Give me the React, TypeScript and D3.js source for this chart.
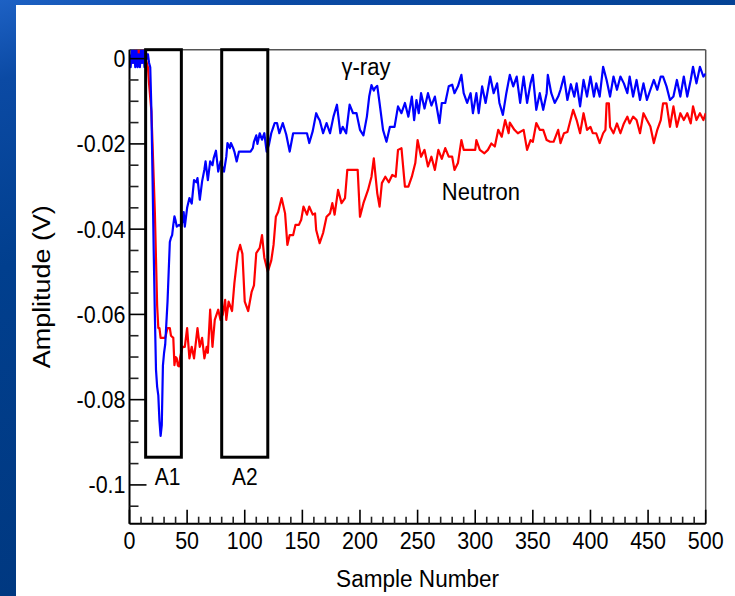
import * as d3 from 'd3'
import { useMemo } from 'react'

// gamma-ray pulse (blue), sample number -> amplitude in volts
const gammaSamples = [
  0, 1, 2, 3, 4, 5, 6, 7, 8, 9, 10, 11, 12, 13, 14, 15, 16, 17, 18, 19, 20, 21, 22, 23, 24, 25, 26, 27, 28, 29,
  30, 31, 32, 33, 34, 35, 36, 37, 38, 39, 40, 41, 43, 45, 46, 47, 48, 50, 52, 54, 56, 58, 59, 61, 63, 65, 66, 68,
  70, 72, 73, 75, 77, 79, 80, 82, 84, 85, 87, 88, 90, 91, 93, 95, 100, 105, 107, 108, 110, 111, 113, 115, 117,
  119, 121, 123, 125, 126, 128, 130, 133, 136, 139, 142, 146, 150, 154, 156, 159, 162, 164, 165, 168, 171, 174,
  177, 180, 183, 185, 188, 191, 194, 197, 200, 203, 206, 208, 210, 212, 213, 215, 217, 220, 223, 226, 230, 233,
  236, 239, 242, 245, 247, 249, 251, 253, 256, 259, 262, 265, 269, 271, 274, 277, 280, 282, 285, 288, 290, 293,
  296, 298, 301, 303, 306, 309, 313, 316, 319, 321, 324, 327, 330, 333, 336, 339, 342, 345, 348, 350, 353, 356,
  359, 362, 363, 366, 369, 372, 374, 377, 380, 383, 386, 388, 391, 394, 397, 400, 403, 405, 408, 411, 414, 417,
  420, 423, 426, 429, 432, 434, 437, 440, 443, 446, 449, 452, 455, 458, 461, 463, 466, 469, 472, 475, 478, 481,
  484, 487, 489, 492, 495, 498, 500,
]
const gammaAmps = [
  0.001, -0.002, 0.002, -0.001, 0.002, -0.002, 0.002, -0.002, 0.001, -0.002, 0.002, -0.001, 0.002, -0.002, 0.002,
  0.0, 0.001, -0.001, -0.002, -0.012, -0.028, -0.045, -0.06, -0.073, -0.077, -0.079, -0.085, -0.0885, -0.086,
  -0.072, -0.069, -0.067, -0.062, -0.057, -0.05, -0.043, -0.042, -0.0414, -0.039, -0.037, -0.038, -0.0394,
  -0.039, -0.0394, -0.038, -0.036, -0.0394, -0.035, -0.0327, -0.034, -0.0285, -0.029, -0.028, -0.0331, -0.0288,
  -0.026, -0.0241, -0.0285, -0.0241, -0.025, -0.0234, -0.0216, -0.0265, -0.0241, -0.025, -0.0265, -0.023,
  -0.0198, -0.021, -0.0198, -0.021, -0.0218, -0.0241, -0.0218, -0.0218, -0.0218, -0.021, -0.0195, -0.018, -0.02,
  -0.0175, -0.019, -0.0175, -0.0218, -0.0202, -0.0175, -0.0159, -0.0151, -0.0151, -0.0175, -0.0151, -0.0178,
  -0.0218, -0.0175, -0.0175, -0.0175, -0.0175, -0.0198, -0.017, -0.0128, -0.014, -0.0144, -0.0175, -0.0151,
  -0.0175, -0.0136, -0.0108, -0.0175, -0.016, -0.0175, -0.0108, -0.0128, -0.0128, -0.0167, -0.018, -0.0136,
  -0.0089, -0.0062, -0.0075, -0.0069, -0.0064, -0.0104, -0.0167, -0.0195, -0.016, -0.016, -0.0112, -0.0128,
  -0.0104, -0.0136, -0.0089, -0.0144, -0.0097, -0.0128, -0.0081, -0.0117, -0.0081, -0.011, -0.0089, -0.0151,
  -0.0104, -0.0104, -0.0065, -0.0061, -0.0081, -0.0065, -0.0038, -0.0081, -0.0104, -0.0081, -0.0128, -0.0081,
  -0.0128, -0.0065, -0.0104, -0.0042, -0.0081, -0.0058, -0.0104, -0.0132, -0.0081, -0.0038, -0.0065, -0.0042,
  -0.0104, -0.0042, -0.0104, -0.0058, -0.0038, -0.012, -0.0081, -0.012, -0.0081, -0.0038, -0.0081, -0.0104,
  -0.0089, -0.0073, -0.0042, -0.0097, -0.006, -0.0089, -0.0058, -0.0112, -0.005, -0.0089, -0.0042, -0.0089,
  -0.0058, -0.0089, -0.0019, -0.005, -0.0089, -0.0042, -0.0073, -0.0042, -0.0058, -0.0081, -0.0042, -0.0089,
  -0.005, -0.0097, -0.0058, -0.0097, -0.0073, -0.005, -0.0073, -0.0042, -0.0042, -0.0065, -0.0097, -0.0089,
  -0.005, -0.0089, -0.0042, -0.0089, -0.005, -0.0019, -0.0058, -0.0019, -0.0042, -0.0035,
]

// neutron pulse (red)
const neutronSamples = [
  0, 1, 2, 3, 4, 5, 6, 7, 8, 9, 10, 11, 12, 13, 14, 15, 16, 17, 19, 20, 21, 22, 23, 24, 25, 26, 27, 29, 31, 33,
  35, 36, 38, 39, 40, 41, 42, 43, 44, 46, 48, 50, 52, 54, 56, 59, 61, 63, 65, 67, 68, 70, 72, 74, 77, 79, 81, 83,
  84, 86, 89, 91, 94, 96, 98, 100, 103, 106, 108, 110, 113, 115, 117, 120, 123, 125, 127, 129, 132, 135, 137,
  139, 142, 144, 147, 149, 151, 154, 156, 159, 161, 162, 165, 168, 171, 174, 176, 178, 181, 184, 187, 189, 194,
  198, 200, 203, 207, 210, 212, 215, 217, 219, 222, 225, 228, 231, 233, 236, 239, 242, 245, 248, 250, 253, 256,
  259, 262, 265, 268, 271, 274, 277, 280, 282, 285, 288, 290, 295, 300, 301, 304, 308, 311, 314, 317, 320, 323,
  326, 329, 330, 334, 337, 342, 345, 348, 350, 353, 356, 359, 362, 365, 368, 372, 374, 377, 380, 385, 388, 391,
  394, 397, 400, 402, 405, 408, 411, 413, 414, 416, 417, 420, 423, 426, 429, 432, 434, 437, 440, 443, 446, 449,
  452, 455, 458, 461, 463, 466, 469, 472, 475, 478, 481, 484, 487, 489, 492, 495, 498, 500,
]
const neutronAmps = [
  -0.002, 0.0, -0.001, 0.001, -0.001, 0.002, -0.001, 0.002, 0.0, 0.002, -0.001, 0.002, 0.001, 0.002, 0.0, -0.001,
  -0.002, -0.006, -0.0124, -0.02, -0.028, -0.0359, -0.047, -0.058, -0.0632, -0.0632, -0.0655, -0.0655, -0.0655,
  -0.0632, -0.0632, -0.065, -0.0655, -0.0719, -0.07, -0.0703, -0.072, -0.0722, -0.07, -0.0676, -0.0676, -0.0632,
  -0.0703, -0.0676, -0.0703, -0.0632, -0.0676, -0.0655, -0.0703, -0.0676, -0.069, -0.0589, -0.0676, -0.0613,
  -0.0589, -0.0613, -0.06, -0.0566, -0.0613, -0.057, -0.0592, -0.0527, -0.0456, -0.0437, -0.0458, -0.057,
  -0.0592, -0.0547, -0.0532, -0.0456, -0.0444, -0.0414, -0.0467, -0.05, -0.0474, -0.0437, -0.0371, -0.036,
  -0.0327, -0.0363, -0.0437, -0.0414, -0.0414, -0.039, -0.039, -0.0378, -0.0347, -0.0366, -0.0347, -0.0366,
  -0.0363, -0.0402, -0.0433, -0.0409, -0.0371, -0.0363, -0.0339, -0.0366, -0.0308, -0.0339, -0.0327, -0.0261,
  -0.0261, -0.0261, -0.0371, -0.0339, -0.0308, -0.0277, -0.0234, -0.0316, -0.0347, -0.0292, -0.0277, -0.029,
  -0.0273, -0.0277, -0.0214, -0.021, -0.03, -0.03, -0.0277, -0.0245, -0.0191, -0.023, -0.0214, -0.0253, -0.023,
  -0.0261, -0.0214, -0.0235, -0.021, -0.023, -0.023, -0.0261, -0.0245, -0.0191, -0.0214, -0.0214, -0.0214,
  -0.0191, -0.0214, -0.0222, -0.0214, -0.0199, -0.0206, -0.0167, -0.0183, -0.0144, -0.0175, -0.015, -0.0167,
  -0.0175, -0.0167, -0.0214, -0.0191, -0.0195, -0.0151, -0.0167, -0.0167, -0.0191, -0.0195, -0.0195, -0.0167,
  -0.0198, -0.0175, -0.0172, -0.012, -0.0144, -0.0175, -0.0128, -0.0167, -0.016, -0.0175, -0.0175, -0.0198,
  -0.0175, -0.0167, -0.0105, -0.0105, -0.016, -0.0175, -0.0152, -0.0175, -0.0152, -0.0136, -0.0152, -0.0136,
  -0.0144, -0.0175, -0.0128, -0.0144, -0.0159, -0.0198, -0.0167, -0.0144, -0.0105, -0.0105, -0.016, -0.0112,
  -0.016, -0.0128, -0.0144, -0.0128, -0.0152, -0.0112, -0.0144, -0.0128, -0.0144, -0.0128,
]

// integration windows
const regionNames = ['A1', 'A2']
const regionStart = [14, 80]
const regionEnd = [45, 120]
const regionFloor = -0.0935
const regionLabelAt = [33, 100]
const regionLabelAmp = -0.1

const seriesLabels = ['γ-ray', 'Neutron']
const seriesLabelSample = [184, 271]
const seriesLabelAmp = [-0.0038, -0.0332]

const xDomain = [0, 500]
const yDomain = [0.0021, -0.1091]

const FONT = "'Liberation Sans', Arial, Helvetica, sans-serif"

const App = () => {
  const plot = { left: 129.5, right: 705.7, top: 49.7, bottom: 523.7 }

  const xScale = useMemo(() => d3.scaleLinear().domain(xDomain).range([plot.left, plot.right]), [])
  const yScale = useMemo(() => d3.scaleLinear().domain(yDomain).range([plot.top, plot.bottom]), [])

  const line = d3
    .line<[number, number]>()
    .x((d) => xScale(d[0]))
    .y((d) => yScale(d[1]))

  const gammaPath = line(d3.zip(gammaSamples, gammaAmps) as [number, number][]) || ''
  const neutronPath = line(d3.zip(neutronSamples, neutronAmps) as [number, number][]) || ''

  const xMajor = xScale.ticks(10)
  const xMinor = xScale.ticks(50).filter((t) => t % 50 !== 0)
  const yMajor = d3.range(0, 6).map((i) => -i / 50)
  const yMinor = d3.range(1, 22).map((i) => -i / 200).filter((t) => Math.round(t * 1000) % 20 !== 0)

  const stretch = 'scale(1,1.12)'

  return (
    <svg width={735} height={596} style={{ position: 'absolute', left: 0, top: 0 }} fontFamily={FONT}>
      <defs>
        <linearGradient id="bg" x1="0" y1="0" x2="0.35" y2="1">
          <stop offset="0" stopColor="#1d61c4" />
          <stop offset="0.12" stopColor="#0b4aa4" />
          <stop offset="0.4" stopColor="#013f8e" />
          <stop offset="1" stopColor="#00377e" />
        </linearGradient>
        <clipPath id="plotClip">
          <rect x={plot.left} y={plot.top} width={plot.right - plot.left} height={plot.bottom - plot.top} />
        </clipPath>
      </defs>
      <rect width={735} height={596} fill="url(#bg)" />
      <rect x={16} y={5} width={719} height={591} fill="#ffffff" />

      {/* frame */}
      <line x1={plot.left} x2={plot.right} y1={plot.top} y2={plot.top} stroke="#555" strokeWidth={1.5} />
      <line x1={plot.right} x2={plot.right} y1={plot.top} y2={plot.bottom} stroke="#555" strokeWidth={1.5} />

      {/* curves */}
      <g clipPath="url(#plotClip)" fill="none" strokeLinejoin="round">
        <path d={neutronPath} stroke="#ff0000" strokeWidth={2.2} />
        <path d={gammaPath} stroke="#0000ff" strokeWidth={2.2} />
      </g>

      {/* windows */}
      {regionNames.map((name, i) => (
        <g key={name}>
          <rect
            x={xScale(regionStart[i])}
            y={plot.top}
            width={xScale(regionEnd[i]) - xScale(regionStart[i])}
            height={yScale(regionFloor) - plot.top}
            fill="none"
            stroke="#000"
            strokeWidth={3}
          />
          <text
            transform={`translate(${xScale(regionLabelAt[i])},${yScale(regionLabelAmp)}) ${stretch}`}
            textAnchor="middle"
            fontSize={21}
            fill="#000"
          >
            {name}
          </text>
        </g>
      ))}

      {seriesLabels.map((s, i) => (
        <text
          key={s}
          transform={`translate(${xScale(seriesLabelSample[i])},${yScale(seriesLabelAmp[i])}) ${stretch}`}
          fontSize={22}
          fill="#000"
        >
          {s}
        </text>
      ))}

      {/* y axis */}
      <line x1={plot.left} x2={plot.left} y1={plot.top} y2={plot.bottom} stroke="#000" strokeWidth={2} />
      {yMajor.map((t) => (
        <g key={'ym' + t}>
          <line x1={plot.left} x2={plot.left + 17} y1={yScale(t)} y2={yScale(t)} stroke="#000" strokeWidth={1.6} />
          <text
            transform={`translate(${plot.left - 4},${yScale(t) + 8.5}) ${stretch}`}
            textAnchor="end"
            fontSize={21.5}
            fill="#000"
          >
            {String(t === 0 ? 0 : t)}
          </text>
        </g>
      ))}
      {yMinor.map((t) => (
        <line key={'yn' + t} x1={plot.left} x2={plot.left + 9} y1={yScale(t)} y2={yScale(t)} stroke="#222" strokeWidth={1.6} />
      ))}

      {/* x axis */}
      <line x1={plot.left} x2={plot.right} y1={plot.bottom} y2={plot.bottom} stroke="#000" strokeWidth={2} />
      {xMajor.map((t) => (
        <g key={'xm' + t}>
          <line x1={xScale(t)} x2={xScale(t)} y1={plot.bottom} y2={plot.bottom - 14} stroke="#000" strokeWidth={1.6} />
          <text
            transform={`translate(${xScale(t)},549) ${stretch}`}
            textAnchor="middle"
            fontSize={21.5}
            fill="#000"
          >
            {t}
          </text>
        </g>
      ))}
      {xMinor.map((t) => (
        <line key={'xn' + t} x1={xScale(t)} x2={xScale(t)} y1={plot.bottom} y2={plot.bottom - 7} stroke="#222" strokeWidth={1.6} />
      ))}

      {/* axis titles */}
      <text
        transform={`translate(${(plot.left + plot.right) / 2},587) ${stretch}`}
        textAnchor="middle"
        fontSize={22}
        textLength={163}
        lengthAdjust="spacingAndGlyphs"
        fill="#000"
      >
        Sample Number
      </text>
      <text
        transform={`translate(50,${(plot.top + plot.bottom) / 2}) rotate(-90) ${stretch}`}
        textAnchor="middle"
        fontSize={22}
        textLength={163}
        lengthAdjust="spacingAndGlyphs"
        fill="#000"
      >
        Amplitude (V)
      </text>
    </svg>
  )
}

export default App
